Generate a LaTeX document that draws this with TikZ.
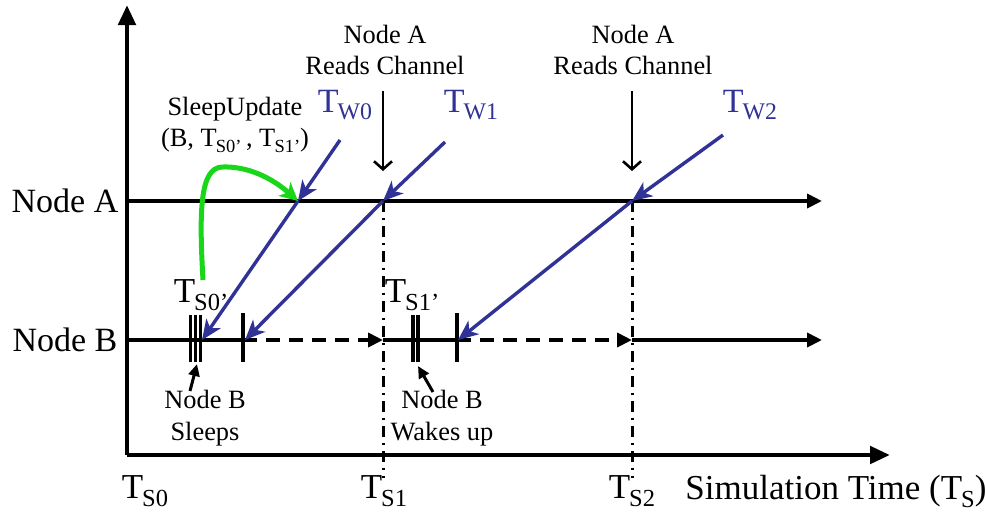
\documentclass[tikz,border=0pt]{standalone}
\usepackage{fontspec}
\setmainfont{Liberation Serif}
\usetikzlibrary{arrows.meta}
\definecolor{wakeblue}{RGB}{48,50,150}
\definecolor{updgreen}{RGB}{24,214,24}
\newcommand{\tsub}[1]{T\kern-0.03em\raisebox{-0.5ex}{\scalebox{0.7}{#1}}}

\begin{document}
\begin{tikzpicture}[x=0.5pt,y=-0.5pt,
  axis/.style={line width=2.4pt,-{Triangle[length=10pt,width=8.5pt]}},
  timeline/.style={line width=2pt},
  tl arrow/.style={timeline,-{Triangle[length=7.5pt,width=7pt]}},
  wait/.style={tl arrow,dash pattern=on 7pt off 4.5pt},
  slot/.style={line width=1.7pt},
  cut/.style={line width=1.5pt,dash pattern=on 5.5pt off 2.8pt on 1.4pt off 2.8pt},
  wake/.style={wakeblue,line width=1.7pt,-{Stealth[length=10pt,width=8.5pt,inset=2.8pt]}},
  note/.style={line width=1.3pt,-{Straight Barb[length=4pt,width=9pt]}},
  pointer/.style={line width=1.5pt,-{Triangle[length=6pt,width=5.5pt]}},
  big/.style={font=\fontsize{17}{19}\selectfont,inner sep=1pt},
  small/.style={font=\fontsize{13.2}{15.8}\selectfont,align=center,inner sep=1pt},
  time/.style={font=\fontsize{17.5}{20}\selectfont,inner sep=1pt},
  wlbl/.style={wakeblue,font=\fontsize{17}{19}\selectfont,inner sep=1pt}]
  \useasboundingbox (0,0) rectangle (985,516);

  % axes
  \coordinate (origin) at (127,455);
  \draw[axis] (origin) -- (127,5);
  \draw[axis] (origin) -- (890,455);

  % node lines
  \node[big] (nodeA) at (65,201) {Node A};
  \node[big] (nodeB) at (65,340) {Node B};
  \coordinate (a0) at (127,201);
  \coordinate (aend) at (822,201);
  \coordinate (b0) at (127,340);
  \coordinate (b1) at (243,340);
  \coordinate (bs1) at (383,340);
  \coordinate (b2) at (457,340);
  \coordinate (bs2) at (632,340);
  \coordinate (bend) at (822,340);
  \draw[tl arrow] (a0) -- (aend);
  \draw[timeline] (b0) -- (b1);
  \draw[wait] (b1) -- (bs1);
  \draw[timeline] (bs1) -- (b2);
  \draw[wait] (b2) -- (bs2);
  \draw[tl arrow] (bs2) -- (bend);

  % channel reads
  \coordinate (xa1) at (383,201);
  \coordinate (xa2) at (632,201);
  \draw[cut] (xa1) -- (383,478);
  \draw[cut] (xa2) -- (632,478);
  \node[small] (read1) at (385,50) {Node A\\Reads Channel};
  \node[small] (read2) at (633,50) {Node A\\Reads Channel};
  \draw[note,shorten <=7pt,shorten >=15pt] (read1.south -| xa1) -- (xa1);
  \draw[note,shorten <=7pt,shorten >=15pt] (read2.south -| xa2) -- (xa2);

  % sleep / wake ticks
  \foreach \x in {190.5,195.5,200.5} \draw[slot] (\x,315) -- (\x,362);
  \foreach \x in {413,418} \draw[slot] (\x,315) -- (\x,362);
  \draw[slot] (243,313) -- (243,362);
  \draw[slot] (457,313) -- (457,362);
  \node[time] (ts0p) at (201,295) {\tsub{S0’}};
  \node[time] (ts1p) at (412,295) {\tsub{S1’}};

  % wake-up messages
  \node[wlbl] (tw0) at (345,105) {\tsub{W0}};
  \node[wlbl] (tw1) at (471,105) {\tsub{W1}};
  \node[wlbl] (tw2) at (750,105) {\tsub{W2}};
  \coordinate (w0s) at (340,140);
  \coordinate (w1s) at (445,142);
  \coordinate (w2s) at (723,135);
  \coordinate (xa0) at (298,201);
  \coordinate (hb0) at (202,340);
  \coordinate (hb1) at (245,340);
  \coordinate (hb2) at (458,340);
  \draw[wake] (w0s) -- (xa0);
  \draw[wake] (xa0) -- (hb0);
  \draw[wake] (w1s) -- (xa1);
  \draw[wake] (xa1) -- (hb1);
  \draw[wake] (w2s) -- (xa2);
  \draw[wake] (xa2) -- (hb2);

  % sleep update
  \node[small] (upd) at (235,125) {SleepUpdate\\(B, \tsub{S0’}\,, \tsub{S1’})};
  \coordinate (g0) at (203,280);
  \coordinate (g1) at (222,167);
  \draw[updgreen,line width=2.5pt,-{Stealth[length=9pt,width=9pt,inset=2.5pt]}]
    (g0) .. controls (199,210) and (200,168) .. (g1)
    .. controls (248,166) and (272,178) .. (xa0);

  % annotations
  \node[small] (sleeps) at (205,418) {Node B\\Sleeps};
  \node[small] (wakes) at (442,418) {Node B\\Wakes up};
  \draw[pointer] (190,391) -- (197,364);
  \draw[pointer] (433,392) -- (418,366);

  % time labels
  \node[time] (ts0) at (145,491) {\tsub{S0}};
  \node[time] (ts1) at (384,491) {\tsub{S1}};
  \node[time] (ts2) at (632,491) {\tsub{S2}};
  \node[time,anchor=west] (simtime) at (683,491) {Simulation Time (\tsub{S})};
\end{tikzpicture}
\end{document}
